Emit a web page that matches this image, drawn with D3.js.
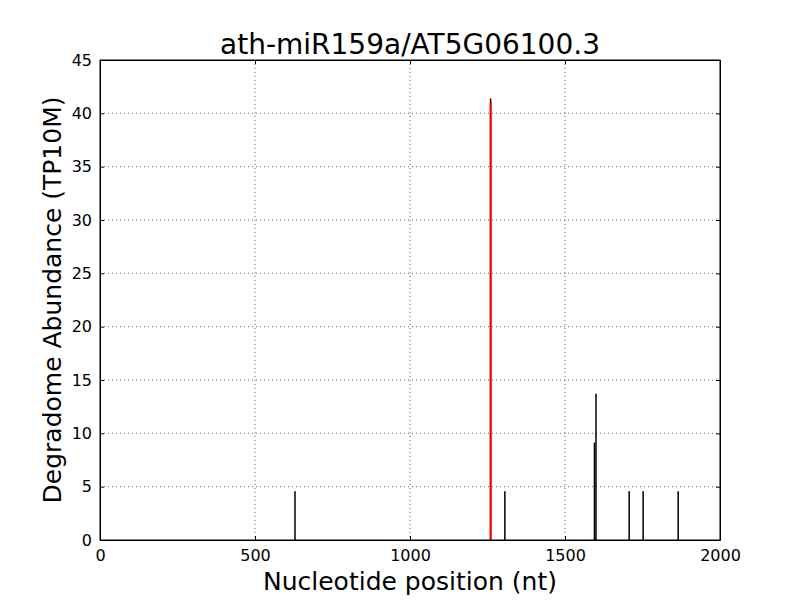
<!DOCTYPE html>
<html>
<head>
<meta charset="utf-8">
<script src="https://cdn.jsdelivr.net/npm/d3@7"></script>
<style>
  body { margin: 0; background: #fff; }
  svg { font-family: "DejaVu Sans", sans-serif; }
</style>
</head>
<body>
<div id="chart-area"></div>
<script>
// data
const positions = [629, 1260, 1306, 1595, 1600, 1707, 1752, 1865]
const abundance = [4.57, 41.4, 4.57, 9.14, 13.71, 4.57, 4.57, 4.57]
const sitePosition = [1260]
const siteAbundance = [41.0]
const xTicks = [0, 500, 1000, 1500, 2000]
const yTicks = [0, 5, 10, 15, 20, 25, 30, 35, 40, 45]

const MARGIN = {LEFT: 100, TOP: 60, RIGHT: 80, BOTTOM: 60}
const WIDTH = 800 - MARGIN.LEFT - MARGIN.RIGHT
const HEIGHT = 600 - MARGIN.TOP - MARGIN.BOTTOM

const svg = d3.select("#chart-area").append("svg")
    .attr("width", 800)
    .attr("height", 600)

const g = svg.append("g")
    .attr("transform", `translate(${MARGIN.LEFT}, ${MARGIN.TOP})`)

const x = d3.scaleLinear().domain([0, 2000]).range([0, WIDTH])
const y = d3.scaleLinear().domain([0, 45]).range([HEIGHT, 0])

// grid
g.selectAll(".vgrid").data(xTicks.slice(1, -1)).enter().append("line")
    .attr("x1", d => x(d)).attr("x2", d => x(d))
    .attr("y1", 0).attr("y2", HEIGHT)
    .attr("stroke", "#000").attr("stroke-width", 0.6)
    .attr("stroke-dasharray", "1,3")
g.selectAll(".hgrid").data(yTicks.slice(1, -1)).enter().append("line")
    .attr("y1", d => y(d)).attr("y2", d => y(d))
    .attr("x1", 0).attr("x2", WIDTH)
    .attr("stroke", "#000").attr("stroke-width", 0.6)
    .attr("stroke-dasharray", "1,3")

// bars
g.selectAll(".bar").data(positions).enter().append("line")
    .attr("x1", d => x(d)).attr("x2", d => x(d))
    .attr("y1", y(0)).attr("y2", (d, i) => y(abundance[i]))
    .attr("stroke", "#000").attr("stroke-width", 1.5)

// target site
g.selectAll(".site").data(sitePosition).enter().append("line")
    .attr("x1", d => x(d)).attr("x2", d => x(d))
    .attr("y1", y(0)).attr("y2", (d, i) => y(siteAbundance[i]))
    .attr("stroke", "#ff0000").attr("stroke-width", 2)

// axes, ticks inward on all sides
const fmt = d3.format("d")
g.append("g").attr("transform", `translate(0, ${HEIGHT})`)
    .call(d3.axisBottom(x).tickValues(xTicks).tickFormat(fmt).tickSizeInner(-4).tickSizeOuter(0).tickPadding(10))
g.append("g")
    .call(d3.axisTop(x).tickValues(xTicks).tickSizeInner(-4).tickSizeOuter(0).tickFormat(""))
g.append("g")
    .call(d3.axisLeft(y).tickValues(yTicks).tickFormat(fmt).tickSizeInner(-4).tickSizeOuter(0).tickPadding(8))
g.append("g").attr("transform", `translate(${WIDTH}, 0)`)
    .call(d3.axisRight(y).tickValues(yTicks).tickSizeInner(-4).tickSizeOuter(0).tickFormat(""))
g.selectAll(".domain").attr("stroke", "#000")
g.selectAll(".tick line").attr("stroke", "#000")
g.selectAll(".tick text").attr("font-size", "16px").attr("fill", "#000")
    .attr("font-family", "DejaVu Sans")

g.append("rect")
    .attr("width", WIDTH).attr("height", HEIGHT)
    .attr("fill", "none").attr("stroke", "#000").attr("stroke-width", 1)

// labels
svg.append("text")
    .attr("x", MARGIN.LEFT + WIDTH / 2).attr("y", 54)
    .attr("text-anchor", "middle").attr("font-size", "28px")
    .text("ath-miR159a/AT5G06100.3")
svg.append("text")
    .attr("x", MARGIN.LEFT + WIDTH / 2).attr("y", 590)
    .attr("text-anchor", "middle").attr("font-size", "25px")
    .text("Nucleotide position (nt)")
svg.append("text")
    .attr("transform", `translate(61, ${MARGIN.TOP + HEIGHT / 2}) rotate(-90)`)
    .attr("text-anchor", "middle").attr("font-size", "25px")
    .text("Degradome Abundance (TP10M)")
</script>
</body>
</html>
